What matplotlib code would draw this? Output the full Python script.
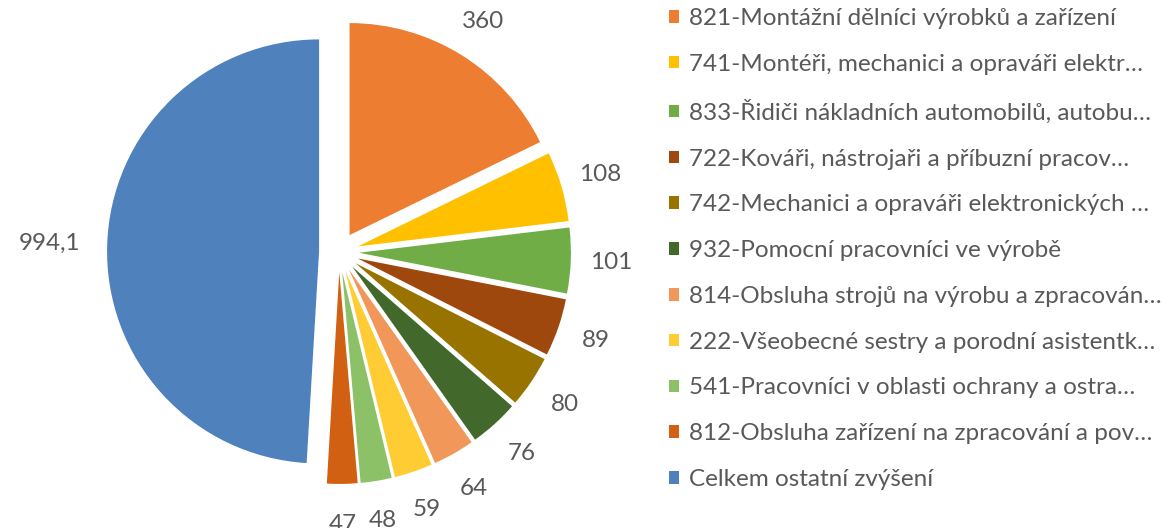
import numpy as np
import matplotlib.pyplot as plt

plt.rcParams['font.family'] = ['Lato', 'DejaVu Sans']

categories = ["821-Montážní dělníci výrobků a zařízení",
              "741-Montéři, mechanici a opraváři elektr…",
              "833-Řidiči nákladních automobilů, autobu…",
              "722-Kováři, nástrojaři a příbuzní pracov…",
              "742-Mechanici a opraváři elektronických …",
              "932-Pomocní pracovníci ve výrobě",
              "814-Obsluha strojů na výrobu a zpracován…",
              "222-Všeobecné sestry a porodní asistentk…",
              "541-Pracovníci v oblasti ochrany a ostra…",
              "812-Obsluha zařízení na zpracování a pov…",
              "Celkem ostatní zvýšení"]
values = [360, 108, 101, 89, 80, 76, 64, 59, 48, 47, 994.1]
value_labels = ["360", "108", "101", "89", "80", "76", "64", "59", "48", "47", "994,1"]
colors = ["#ED7D31", "#FFC000", "#70AD47", "#9E480E", "#997300", "#43682B",
          "#F1975A", "#FFCD33", "#8CC168", "#D26012", "#4F81BD"]

W, H = 1163, 528
cx, cy, R = 339, 252, 212   # pie centre (px from top-left) and radius in px
txt = "#595959"
fs = 17.5

fig = plt.figure(figsize=(W / 100, H / 100), dpi=100)
ax = fig.add_axes([0, 0, 1, 1])
wedges, _ = ax.pie(values, colors=colors, startangle=90, counterclock=False,
                   explode=[0.094] * len(values),
                   wedgeprops=dict(linewidth=0))
ax.set_xlim(-cx / R, (W - cx) / R)
ax.set_ylim(-(H - cy) / R, cy / R)
ax.set_aspect('auto')
ax.axis('off')

# value labels outside each slice
for w, lab in zip(wedges, value_labels):
    ang = np.deg2rad((w.theta1 + w.theta2) / 2)
    d = 1.27 if lab == "994,1" else 1.19
    x0, y0 = w.center
    ax.text(x0 + d * np.cos(ang), y0 + d * np.sin(ang), lab,
            ha='center', va='center', fontsize=fs, color=txt)

leg = fig.legend(wedges, categories, loc='upper left',
                 bbox_to_anchor=(669 / W, 1 - 8 / H), frameon=False,
                 fontsize=fs, labelcolor=txt, handlelength=0.42,
                 handleheight=0.42, handletextpad=0.4, labelspacing=1.02,
                 borderpad=0, borderaxespad=0)

fig.savefig("out.png", dpi=100)
